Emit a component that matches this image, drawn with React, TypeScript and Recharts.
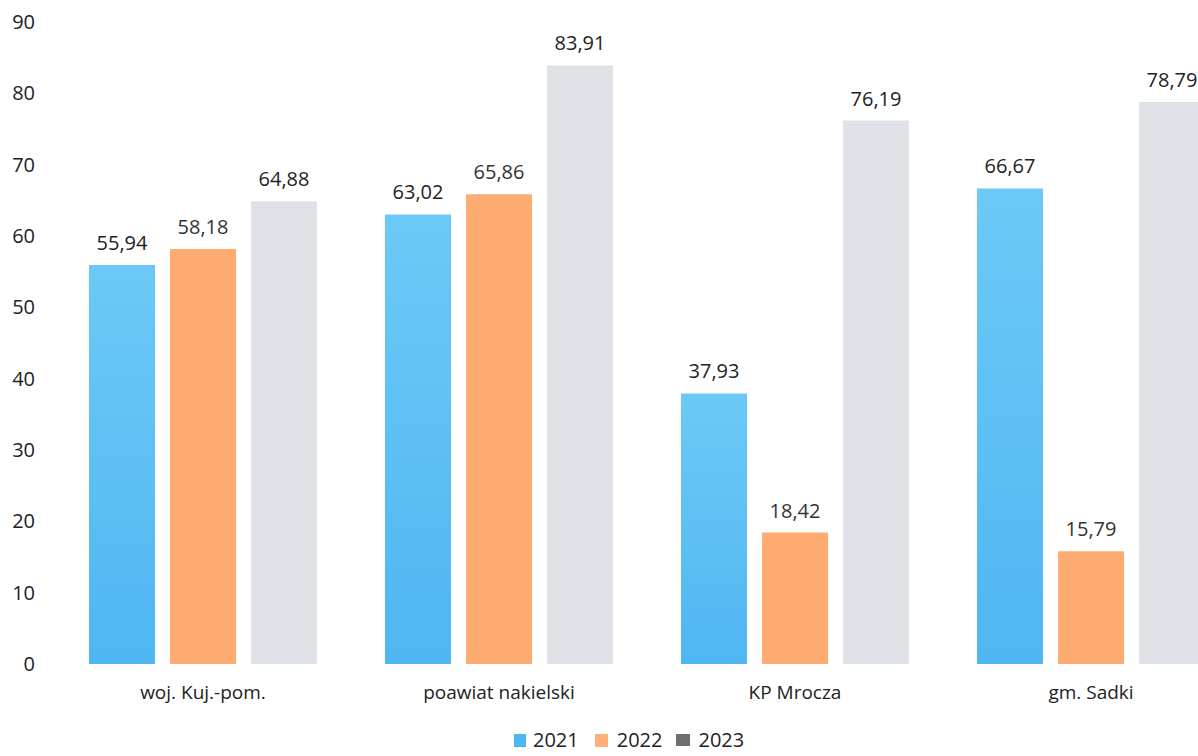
import React from 'react';
import { BarChart, Bar, XAxis, YAxis, LabelList, Legend } from 'recharts';

const categories = ['woj. Kuj.-pom.', 'poawiat nakielski', 'KP Mrocza', 'gm. Sadki'];
const values2021 = [55.94, 63.02, 37.93, 66.67];
const values2022 = [58.18, 65.86, 18.42, 15.79];
const values2023 = [64.88, 83.91, 76.19, 78.79];
const seriesNames = ['2021', '2022', '2023'];
const yTicks = [0, 10, 20, 30, 40, 50, 60, 70, 80, 90];

const data = categories.map((name, i) => ({
  name,
  y2021: values2021[i],
  y2022: values2022[i],
  y2023: values2023[i],
}));

const FONT = '"Open Sans", "Noto Sans", sans-serif';
const fmt = (v: any) => (typeof v === 'number' ? v.toFixed(2).replace('.', ',') : v);

const renderLegend = () => (
  <div
    style={{
      height: 30,
      boxSizing: 'border-box',
      paddingTop: 6,
      display: 'flex',
      alignItems: 'center',
      fontFamily: FONT,
      fontSize: 20,
      lineHeight: '20px',
      color: '#222',
    }}
  >
    <span style={{ display: 'inline-block', width: 12, height: 13, background: '#4DB5F2', marginRight: 7 }} />
    <span style={{ marginRight: 16 }}>{seriesNames[0]}</span>
    <span style={{ display: 'inline-block', width: 13, height: 13, background: '#FFB07A', marginRight: 9 }} />
    <span style={{ marginRight: 13 }}>{seriesNames[1]}</span>
    <span style={{ display: 'inline-block', width: 14, height: 12, background: '#6E6E6E', marginRight: 9 }} />
    <span>{seriesNames[2]}</span>
  </div>
);

export default function App() {
  return (
    <div style={{ position: 'fixed', left: 0, top: 0, width: 1198, height: 756, overflow: 'hidden', background: '#fff' }}>
      <BarChart
        width={1239}
        height={756}
        data={data}
        margin={{ top: 22, right: 0, bottom: 4, left: 0 }}
        barCategoryGap={34}
        barGap={15}
      >
        <defs>
          <linearGradient id="blueGrad" x1="0" y1="0" x2="0" y2="1">
            <stop offset="0%" stopColor="#6CC9F7" />
            <stop offset="100%" stopColor="#4FB6F2" />
          </linearGradient>
        </defs>
        <XAxis
          dataKey="name"
          axisLine={false}
          tickLine={false}
          tickSize={0}
          tickMargin={22}
          height={58}
          tick={{ fontFamily: FONT, fontSize: 19, fill: '#222' }}
        />
        <YAxis
          domain={[0, 90]}
          ticks={yTicks}
          width={55}
          axisLine={false}
          tickLine={false}
          tickSize={0}
          tickMargin={20}
          tick={{ fontFamily: FONT, fontSize: 20, fill: '#222' }}
          interval={0}
        />
        <Legend content={renderLegend} wrapperStyle={{ left: 514, width: 280 }} />
        <Bar dataKey="y2021" name={seriesNames[0]} fill="url(#blueGrad)" isAnimationActive={false}>
          <LabelList dataKey="y2021" position="top" offset={15} formatter={fmt} style={{ fontFamily: FONT, fontSize: 20, fill: '#222' }} />
        </Bar>
        <Bar dataKey="y2022" name={seriesNames[1]} fill="#FFAC73" isAnimationActive={false}>
          <LabelList dataKey="y2022" position="top" offset={15} formatter={fmt} style={{ fontFamily: FONT, fontSize: 20, fill: '#333' }} />
        </Bar>
        <Bar dataKey="y2023" name={seriesNames[2]} fill="#DEE2E6" isAnimationActive={false}>
          <LabelList dataKey="y2023" position="top" offset={15} formatter={fmt} style={{ fontFamily: FONT, fontSize: 20, fill: '#222' }} />
        </Bar>
      </BarChart>
    </div>
  );
}
